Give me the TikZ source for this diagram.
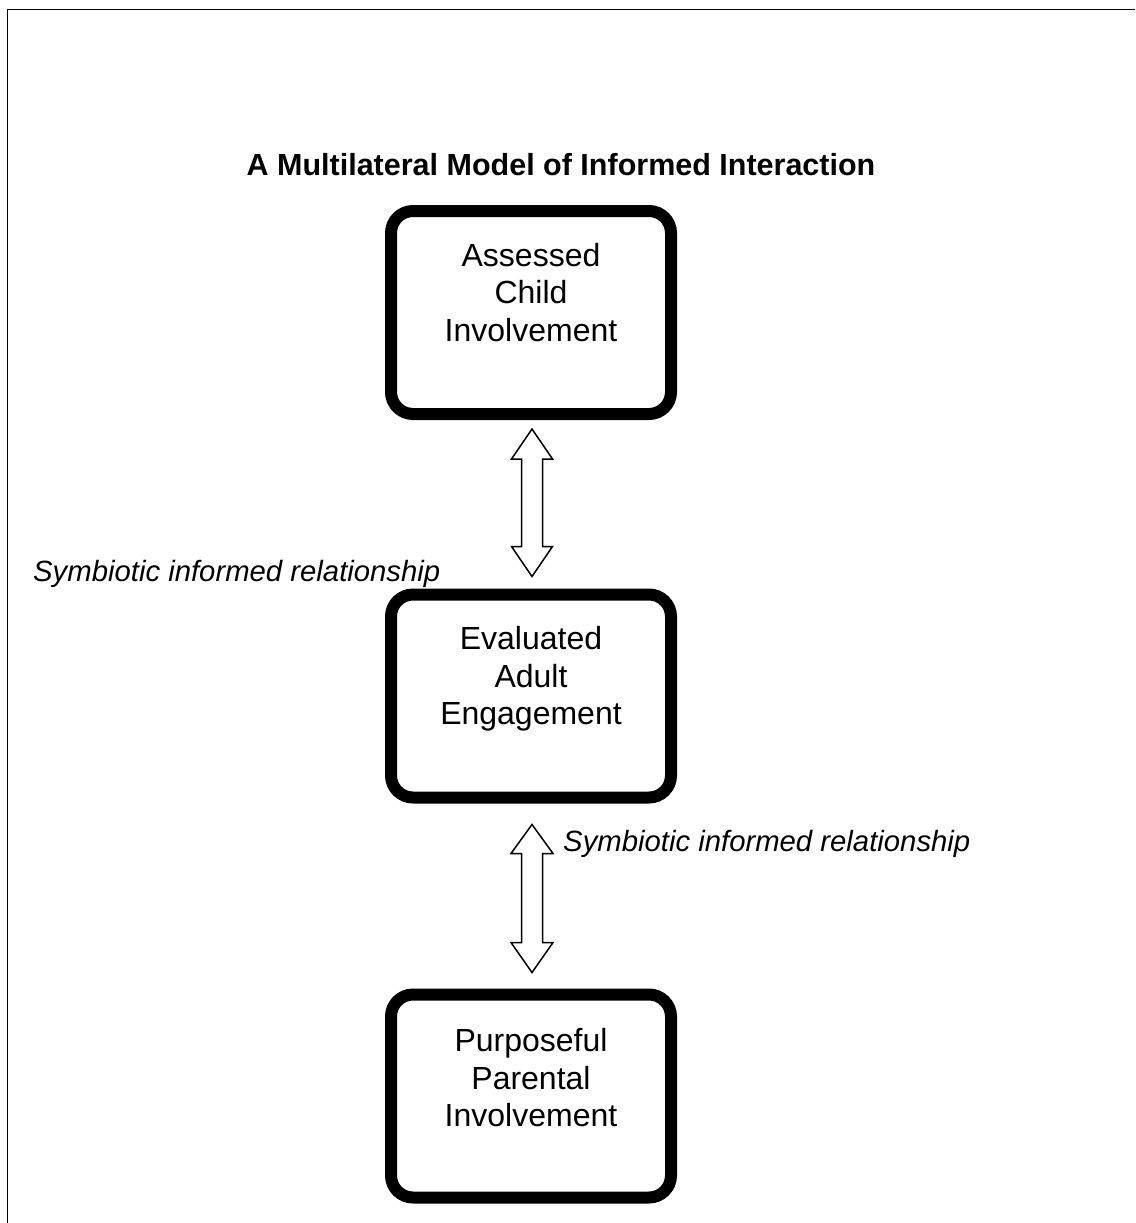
\documentclass[tikz,border=0pt]{standalone}
\usepackage{fontspec}
\setmainfont{Liberation Sans}
\usetikzlibrary{calc}
\tikzset{
  x=1pt, y=-1pt,
  stagebox/.style={draw, line width=12pt, rounded corners=22pt, minimum width=280pt, minimum height=203pt, inner sep=0pt},
  stagetext/.style={align=center, anchor=north, inner sep=0pt, font=\fontsize{32}{37.5}\selectfont},
  relabel/.style={inner sep=0pt, font=\fontsize{29.3}{34}\selectfont\itshape},
  dblarrow/.style={draw, line width=1.5pt, fill=white, line join=miter},
  frameline/.style={line width=1.6pt}
}
\begin{document}
\begin{tikzpicture}
\useasboundingbox (0,0) rectangle (1135,1223);
\draw[frameline] (7.5,1223) -- (7.5,9.5) -- (1135,9.5);

\node[inner sep=0pt, anchor=base, font=\fontsize{30.5}{34}\selectfont\bfseries] (title) at (561,175) {A Multilateral Model of Informed Interaction};

\node[stagebox] (b1) at (531,312.5) {};
\node[stagebox] (b2) at (531,696) {};
\node[stagebox] (b3) at (531,1096) {};

\node[stagetext] (t1) at ($(b1.north)+(0,38)$) {Assessed\\Child\\Involvement};
\node[stagetext] (t2) at ($(b2.north)+(0,38)$) {Evaluated\\Adult\\Engagement};
\node[stagetext] (t3) at ($(b3.north)+(0,40)$) {Purposeful\\Parental\\Involvement};

% double arrows
\coordinate (a1t) at ($(b1.south)+(1,9)$);
\coordinate (a1b) at ($(b2.north)+(1,-12)$);
\coordinate (a2t) at ($(b2.south)+(1,21)$);
\coordinate (a2b) at ($(b3.north)+(1,-16)$);

\draw[dblarrow] (a1t) -- ($(a1t)+(20.5,30)$) -- ($(a1t)+(10.5,30)$) -- ($(a1b)+(10.5,-30)$) -- ($(a1b)+(20.5,-30)$) -- (a1b)
  -- ($(a1b)+(-20.5,-30)$) -- ($(a1b)+(-10.5,-30)$) -- ($(a1t)+(-10.5,30)$) -- ($(a1t)+(-20.5,30)$) -- cycle;
\draw[dblarrow] (a2t) -- ($(a2t)+(21,29)$) -- ($(a2t)+(10.5,29)$) -- ($(a2b)+(10.5,-30)$) -- ($(a2b)+(21,-30)$) -- (a2b)
  -- ($(a2b)+(-21,-30)$) -- ($(a2b)+(-10.5,-30)$) -- ($(a2t)+(-10.5,29)$) -- ($(a2t)+(-21,29)$) -- cycle;

\node[relabel, anchor=base west] (l1) at (33,581) {Symbiotic informed relationship};
\node[relabel, anchor=base west] (l2) at (563,851) {Symbiotic informed relationship};
\end{tikzpicture}
\end{document}
